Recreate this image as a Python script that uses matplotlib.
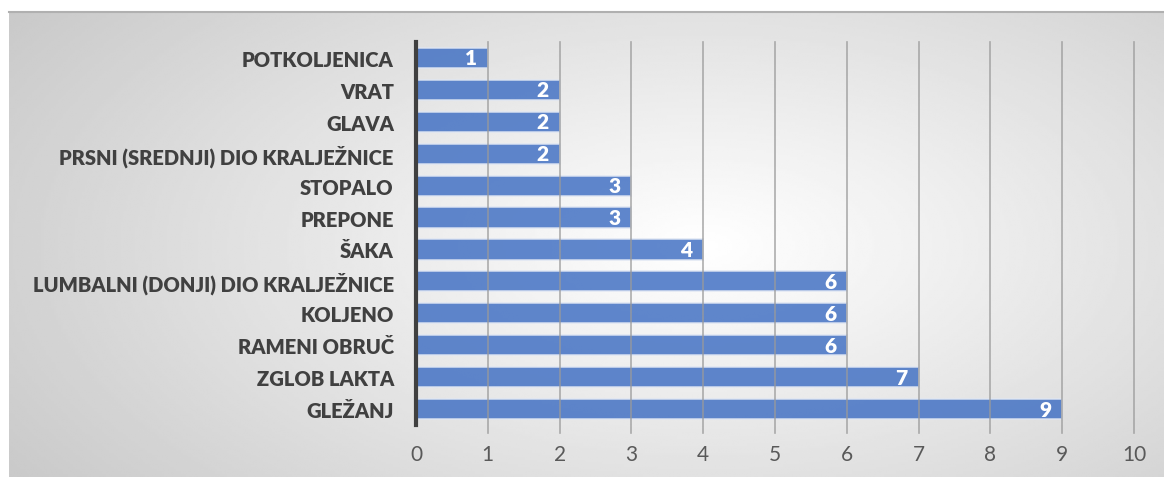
import numpy as np
import matplotlib.pyplot as plt

categories = ['POTKOLJENICA', 'VRAT', 'GLAVA', 'PRSNI (SREDNJI) DIO KRALJEŽNICE',
              'STOPALO', 'PREPONE', 'ŠAKA', 'LUMBALNI (DONJI) DIO KRALJEŽNICE',
              'KOLJENO', 'RAMENI OBRUČ', 'ZGLOB LAKTA', 'GLEŽANJ']
values = [1, 2, 2, 2, 3, 3, 4, 6, 6, 6, 7, 9]
xticks = list(range(0, 11))

plt.rcParams['font.family'] = ['Lato', 'DejaVu Sans']

fig = plt.figure(figsize=(11.64, 4.81), dpi=100)

# radial gradient background inside the chart border
bg = fig.add_axes([9 / 1164, 3 / 481, 1 - 9 / 1164, 1 - 16 / 481])
h, w = 200, 480
yy, xx = np.mgrid[0:h, 0:w]
cx, cy = 0.6 * w, 0.5 * h
r = np.sqrt(((xx - cx) / (0.6 * w)) ** 2 + ((yy - cy) / (0.75 * h)) ** 2)
shade = 1.0 - 0.22 * np.clip(r, 0, 1.25) / 1.25
bg.imshow(shade, cmap='gray', vmin=0, vmax=1, aspect='auto',
          extent=[0, 1, 0, 1], interpolation='bilinear')
bg.set_xticks([])
bg.set_yticks([])
for side in ['left', 'right', 'bottom']:
    bg.spines[side].set_visible(False)
bg.spines['top'].set_color('#b0b0b0')
bg.spines['top'].set_linewidth(1.5)

ax = fig.add_axes([416 / 1164, 1 - 426 / 481, (1134 - 416) / 1164, (426 - 43) / 481])
ax.patch.set_alpha(0)

ypos = np.arange(len(categories))
ax.barh(ypos, values, height=0.63, color='#4472c4', alpha=0.85,
        edgecolor='#dfe6f3', linewidth=1.2, zorder=2)
ax.set_ylim(len(categories) - 0.5, -0.5)
ax.set_xlim(0, 10)
ax.set_xticks(xticks)
ax.set_yticks(ypos)
ax.set_yticklabels(categories, fontsize=14.5, fontweight='heavy', color='#404040')
ax.tick_params(axis='y', length=0, pad=16)
ax.tick_params(axis='x', length=0, pad=14, labelsize=15, labelcolor='#595959')

for x in xticks[1:]:
    ax.axvline(x, color='#9a9a9a', linewidth=1.2, ymin=-0.02, ymax=1, clip_on=False, zorder=3, alpha=0.8)

for s in ['top', 'right', 'bottom']:
    ax.spines[s].set_visible(False)
ax.spines['left'].set_color('#404040')
ax.spines['left'].set_linewidth(3)
ax.spines['left'].set_zorder(4)

for yi, v in zip(ypos, values):
    ax.text(v - 0.15, yi, str(v), ha='right', va='center', color='white',
            fontsize=15, fontweight='heavy', zorder=5)

fig.savefig('out.png', dpi=100)
